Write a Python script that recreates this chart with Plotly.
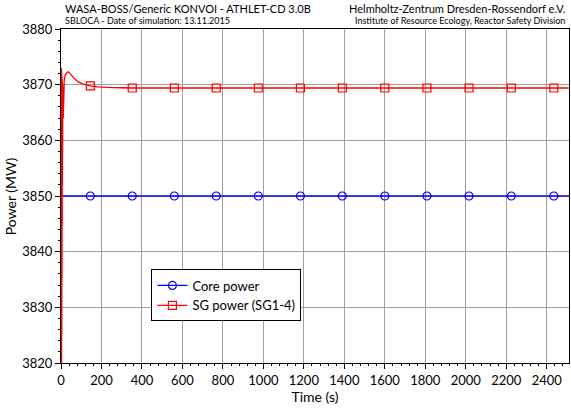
import plotly.graph_objects as go

# Data
core_t = [0, 2510]
core_p = [3850.0, 3850.0]
marker_t = [145, 352, 560, 767, 975, 1183, 1390, 1600, 1808, 2016, 2225, 2435]
core_marker_p = [3850.0] * 12

sg_t = [0, 0.5, 1, 1.5, 2, 2.5, 3, 3.5, 4, 4.5, 5, 5.5, 6, 6.5, 7, 7.5, 8, 8.5, 9,
        9.5, 10, 10.5, 11, 11.5, 12, 12.5, 13, 13.5, 14, 14.5, 15, 15.5, 16,
        18, 22, 28, 35, 40, 50, 60, 75, 90, 110, 130, 145, 180, 230, 300, 352, 500,
        800, 1200, 1600, 2000, 2510]
sg_p = [3700, 3873, 3790, 3873, 3800, 3872.5, 3815, 3872, 3825, 3871.5, 3835, 3871,
        3845, 3870.5, 3852, 3870, 3858, 3869.5, 3864, 3869, 3864, 3868.5, 3866,
        3868, 3864, 3869, 3866, 3869.5, 3867, 3870, 3868.5, 3870.5, 3870.8,
        3871.3, 3871.8, 3872.1, 3872.3, 3872.2, 3871.8, 3871.3, 3870.8, 3870.4, 3870.1,
        3869.9, 3869.8, 3869.6, 3869.5, 3869.45, 3869.4, 3869.4,
        3869.4, 3869.4, 3869.4, 3869.4, 3869.4]
sg_marker_p = [3869.8] + [3869.4] * 11

BLUE = "#0000ff"
RED = "#ff0000"
FONT = "Lato"

fig = go.Figure()
fig.add_trace(go.Scatter(x=core_t, y=core_p, mode="lines", line=dict(color=BLUE, width=1.3),
                         showlegend=False, hoverinfo="skip"))
fig.add_trace(go.Scatter(x=marker_t, y=core_marker_p, mode="markers",
                         marker=dict(symbol="circle-open", size=8, color=BLUE, line=dict(width=1.2)),
                         showlegend=False))
fig.add_trace(go.Scatter(x=sg_t, y=sg_p, mode="lines",
                         line=dict(color=RED, width=1.3, simplify=False),
                         showlegend=False, hoverinfo="skip"))
fig.add_trace(go.Scatter(x=marker_t, y=sg_marker_p, mode="markers",
                         marker=dict(symbol="square-open", size=8, color=RED, line=dict(width=1.2)),
                         showlegend=False))
# legend entries
fig.add_trace(go.Scatter(x=[None], y=[None], mode="lines+markers", name="Core power",
                         line=dict(color=BLUE, width=1.3),
                         marker=dict(symbol="circle-open", size=8, color=BLUE, line=dict(width=1.2))))
fig.add_trace(go.Scatter(x=[None], y=[None], mode="lines+markers", name="SG power (SG1-4)",
                         line=dict(color=RED, width=1.3),
                         marker=dict(symbol="square-open", size=8, color=RED, line=dict(width=1.2))))

axis_common = dict(
    showline=True, linecolor="black", linewidth=1.2, mirror=True,
    ticks="outside", ticklen=5, tickcolor="black", tickwidth=1,
    showgrid=True, gridcolor="#a0a0a0", gridwidth=1, zeroline=False,
    tickfont=dict(family=FONT, size=13, color="black"),
    layer="below traces",
)

fig.update_xaxes(range=[0, 2510], dtick=200, tick0=0,
                 minor=dict(dtick=40, ticks="outside", ticklen=2, tickcolor="black", showgrid=False),
                 title=dict(text="Time (s)", font=dict(family=FONT, size=14, color="black"), standoff=5),
                 **axis_common)
fig.update_yaxes(range=[3820, 3880], dtick=10, tick0=3820,
                 minor=dict(dtick=2, ticks="outside", ticklen=2, tickcolor="black", showgrid=False),
                 **axis_common)

fig.update_layout(
    width=571, height=415,
    margin=dict(l=61, r=2, t=29, b=52, autoexpand=False),
    paper_bgcolor="white", plot_bgcolor="white",
    font=dict(family=FONT, color="black"),
    legend=dict(x=0.178, y=0.28, xanchor="left", yanchor="top",
                bgcolor="white", bordercolor="black", borderwidth=1,
                font=dict(family=FONT, size=13, color="black"),
                tracegroupgap=0, itemwidth=30),
    annotations=[
        dict(text="Power (MW)", xref="paper", yref="paper", x=-0.1, y=0.5,
             xanchor="center", yanchor="middle", textangle=-90, showarrow=False,
             font=dict(family=FONT, size=14, color="black")),
        dict(text="WASA-BOSS/Generic KONVOI - ATHLET-CD 3.0B", xref="paper", yref="paper",
             x=0.003, y=1, yshift=21, xanchor="left", yanchor="middle", showarrow=False,
             font=dict(family=FONT, size=11, color="black")),
        dict(text="SBLOCA - Date of simulation: 13.11.2015", xref="paper", yref="paper",
             x=0.003, y=1, yshift=9, xanchor="left", yanchor="middle", showarrow=False,
             font=dict(family=FONT, size=9, color="black")),
        dict(text="Helmholtz-Zentrum Dresden-Rossendorf e.V.", xref="paper", yref="paper",
             x=0.996, y=1, yshift=21, xanchor="right", yanchor="middle", showarrow=False,
             font=dict(family=FONT, size=11, color="black")),
        dict(text="Institute of Resource Ecology, Reactor Safety Division", xref="paper", yref="paper",
             x=0.996, y=1, yshift=9, xanchor="right", yanchor="middle", showarrow=False,
             font=dict(family=FONT, size=9, color="black")),
    ],
)

fig.write_html("out.html")
